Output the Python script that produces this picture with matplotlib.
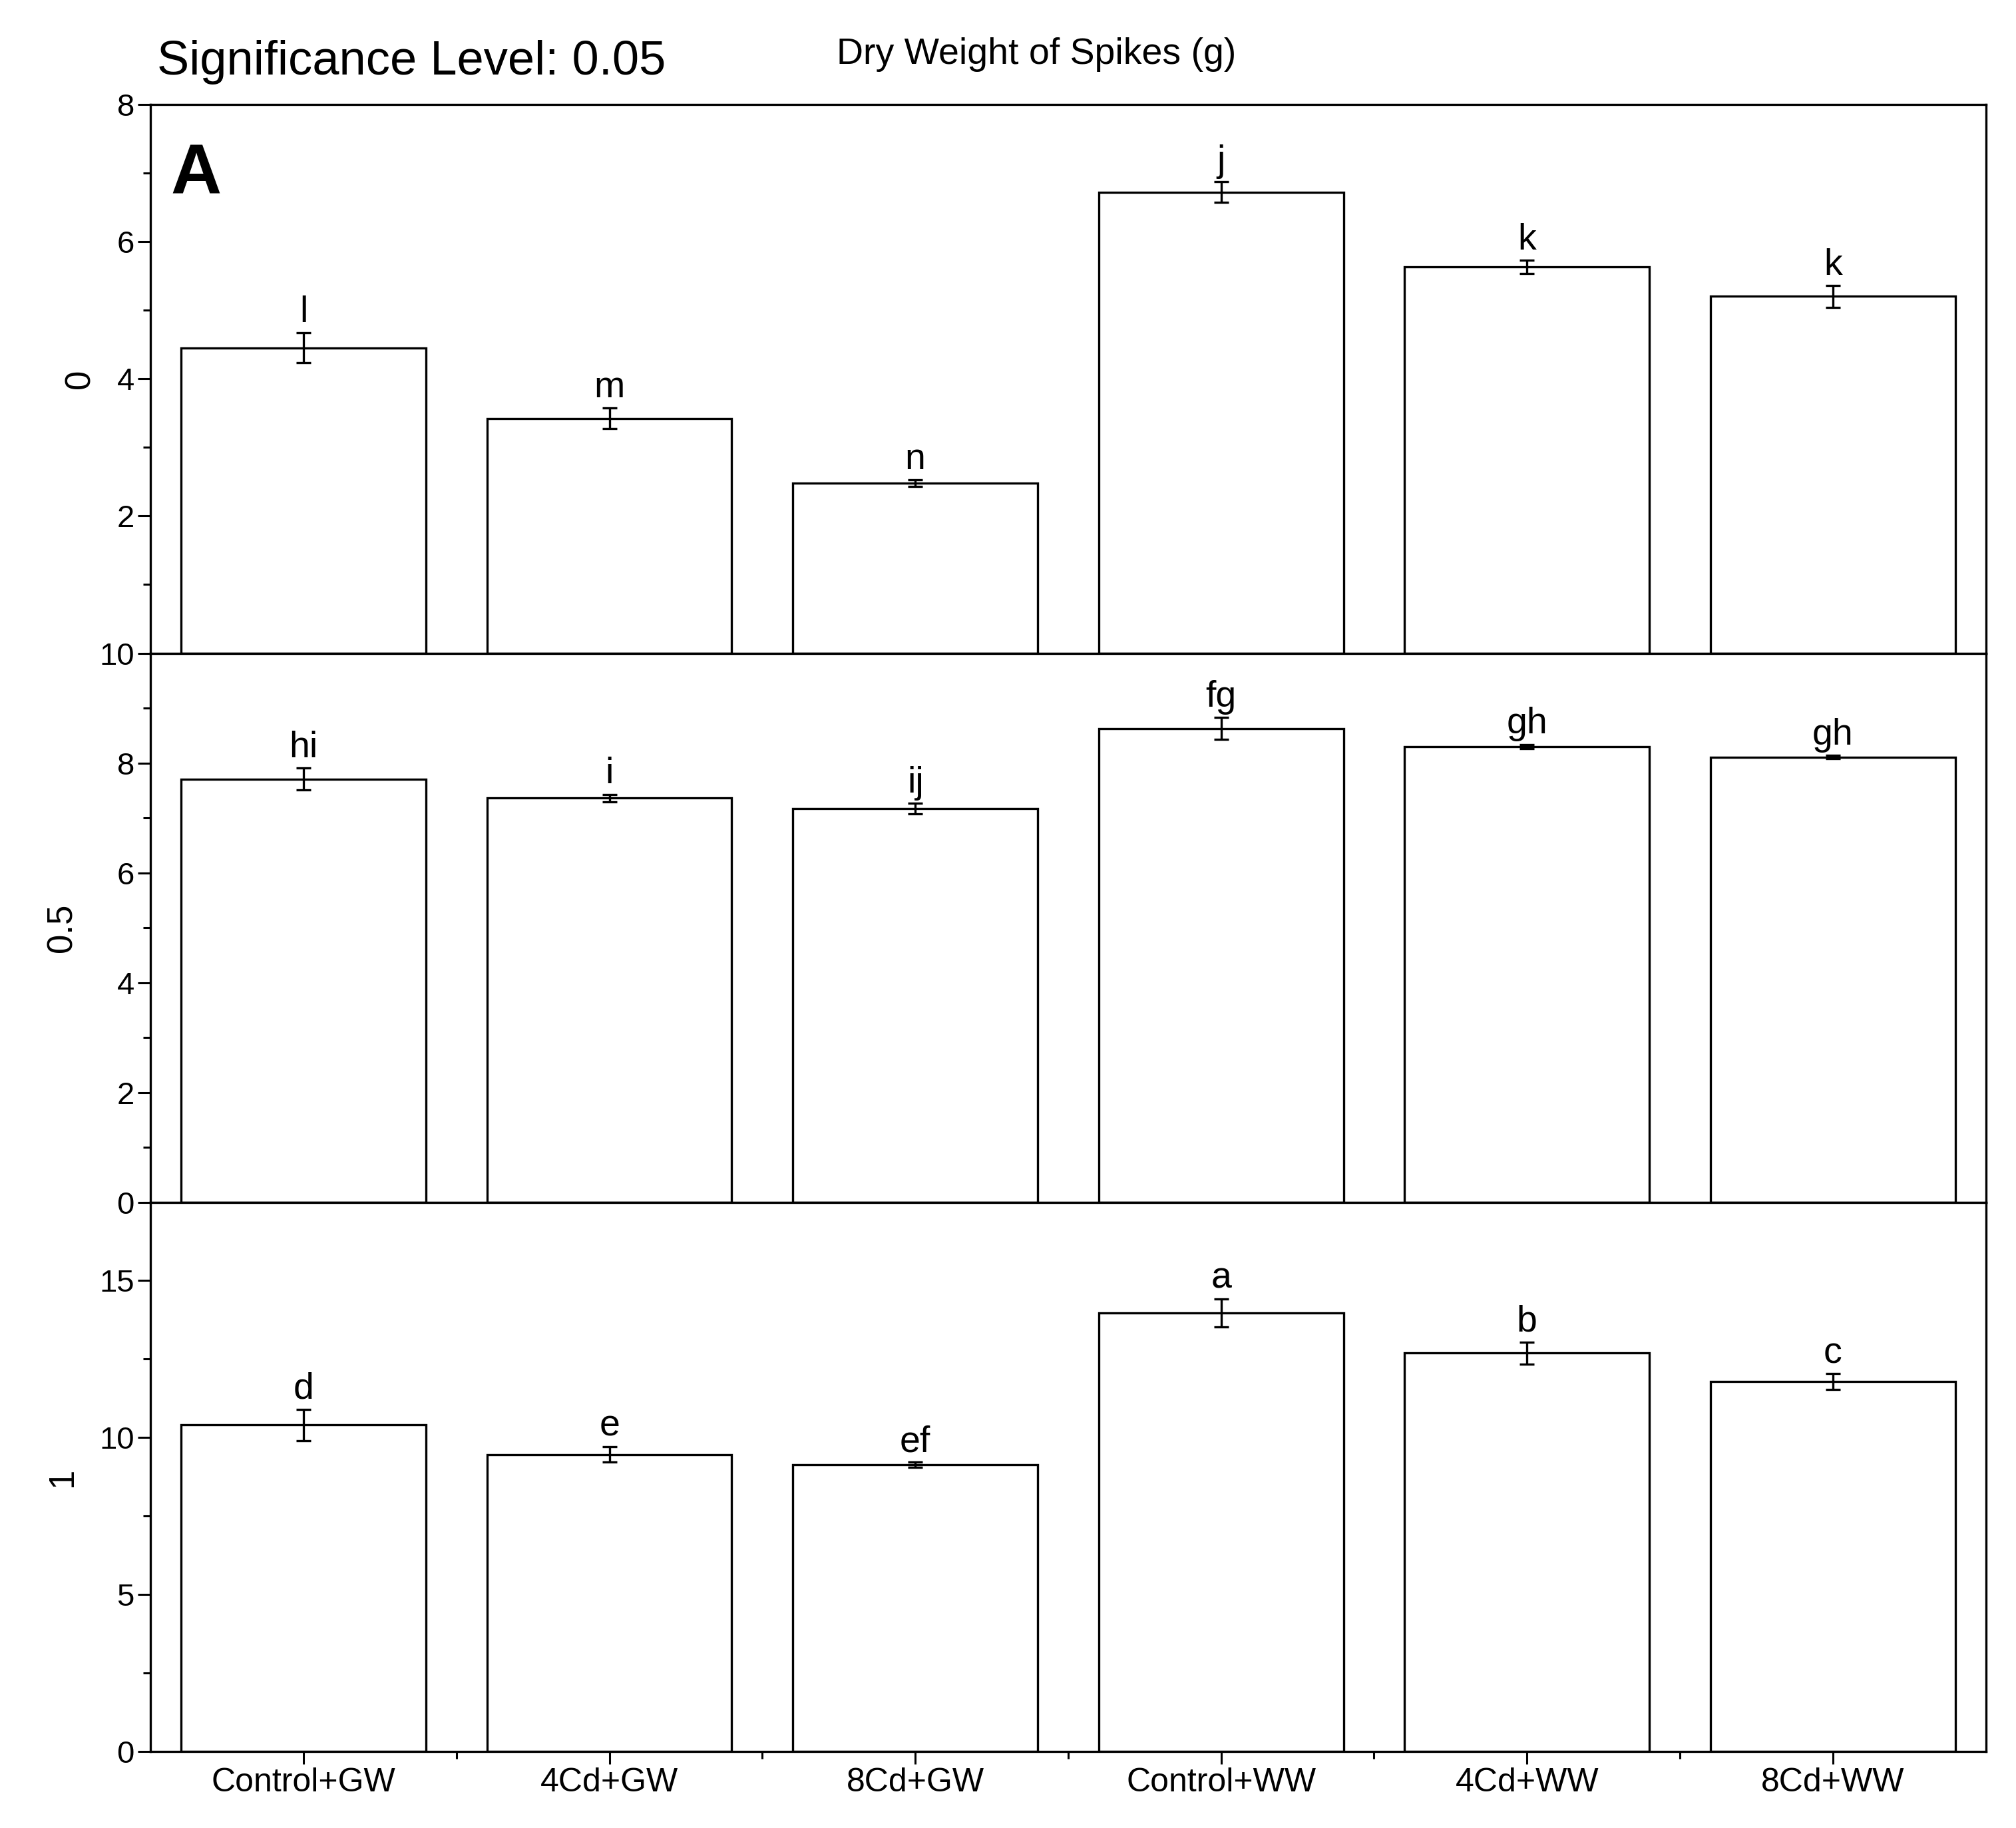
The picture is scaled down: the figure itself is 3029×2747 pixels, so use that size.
import numpy as np
import matplotlib.pyplot as plt
from matplotlib.ticker import MultipleLocator

plt.rcParams['font.family'] = ['Liberation Sans', 'DejaVu Sans']

groups = ['Control+GW', '4Cd+GW', '8Cd+GW', 'Control+WW', '4Cd+WW', '8Cd+WW']
levels = ['0', '0.5', '1']

vals_0 = [4.45, 3.42, 2.48, 6.72, 5.63, 5.20]
err_0 = [0.22, 0.15, 0.05, 0.15, 0.10, 0.16]
lab_0 = ['l', 'm', 'n', 'j', 'k', 'k']

vals_05 = [7.71, 7.36, 7.17, 8.63, 8.30, 8.11]
err_05 = [0.20, 0.07, 0.10, 0.20, 0.04, 0.03]
lab_05 = ['hi', 'i', 'ij', 'fg', 'gh', 'gh']

vals_1 = [10.4, 9.46, 9.13, 13.97, 12.69, 11.78]
err_1 = [0.50, 0.25, 0.08, 0.45, 0.35, 0.25]
lab_1 = ['d', 'e', 'ef', 'a', 'b', 'c']

panels = [
    (vals_0, err_0, lab_0, (0, 8), 2, 1, [2, 4, 6, 8]),
    (vals_05, err_05, lab_05, (0, 10), 2, 1, [0, 2, 4, 6, 8, 10]),
    (vals_1, err_1, lab_1, (0, 17.5), 5, 2.5, [0, 5, 10, 15]),
]

fig = plt.figure(figsize=(30.29, 27.47), dpi=100)
top, bot = 0.943, 0.042
h = (top - bot) / 3
x = np.arange(len(groups))

for i, (v, e, labs, ylim, major, minor, ticks) in enumerate(panels):
    ax = fig.add_axes([0.0747, top - (i + 1) * h, 0.9150 - 0.0047, h])
    ax.bar(x, v, width=0.8, color='white', edgecolor='black', linewidth=2.4)
    ax.errorbar(x, v, yerr=e, fmt='none', ecolor='black', elinewidth=2.4,
                capsize=8, capthick=2.4)
    for xi, vi, ei, t in zip(x, v, e, labs):
        ax.text(xi, vi + ei + (ylim[1] * 0.005), t, ha='center', va='bottom', fontsize=40)
    ax.set_xlim(-0.5, 5.5)
    ax.set_ylim(*ylim)
    ax.set_yticks(ticks)
    ax.yaxis.set_minor_locator(MultipleLocator(minor))
    ax.tick_params(axis='y', labelsize=34, direction='out', length=14, width=2.2)
    ax.tick_params(axis='y', which='minor', length=8, width=2.2)
    ax.set_ylabel(levels[i], fontsize=38, labelpad=22)
    for s in ax.spines.values():
        s.set_linewidth(2.4)
    if i < 2:
        ax.set_xticks([])
    else:
        ax.set_xticks(x)
        ax.set_xticklabels(groups, fontsize=36)
        ax.set_xticks(x[:-1] + 0.5, minor=True)
        ax.tick_params(axis='x', direction='out', length=14, width=2.2)
        ax.tick_params(axis='x', which='minor', length=8, width=2.2)
    if i == 0:
        ax.text(0.011, 0.93, 'A', transform=ax.transAxes, fontsize=76,
                fontweight='bold', va='top')

fig.text(0.078, 0.966, 'Significance Level: 0.05', fontsize=52, va='center')
fig.text(0.415, 0.970, 'Dry Weight of Spikes (g)', fontsize=40, va='center')

fig.savefig('out.png', dpi=100, facecolor='white')
